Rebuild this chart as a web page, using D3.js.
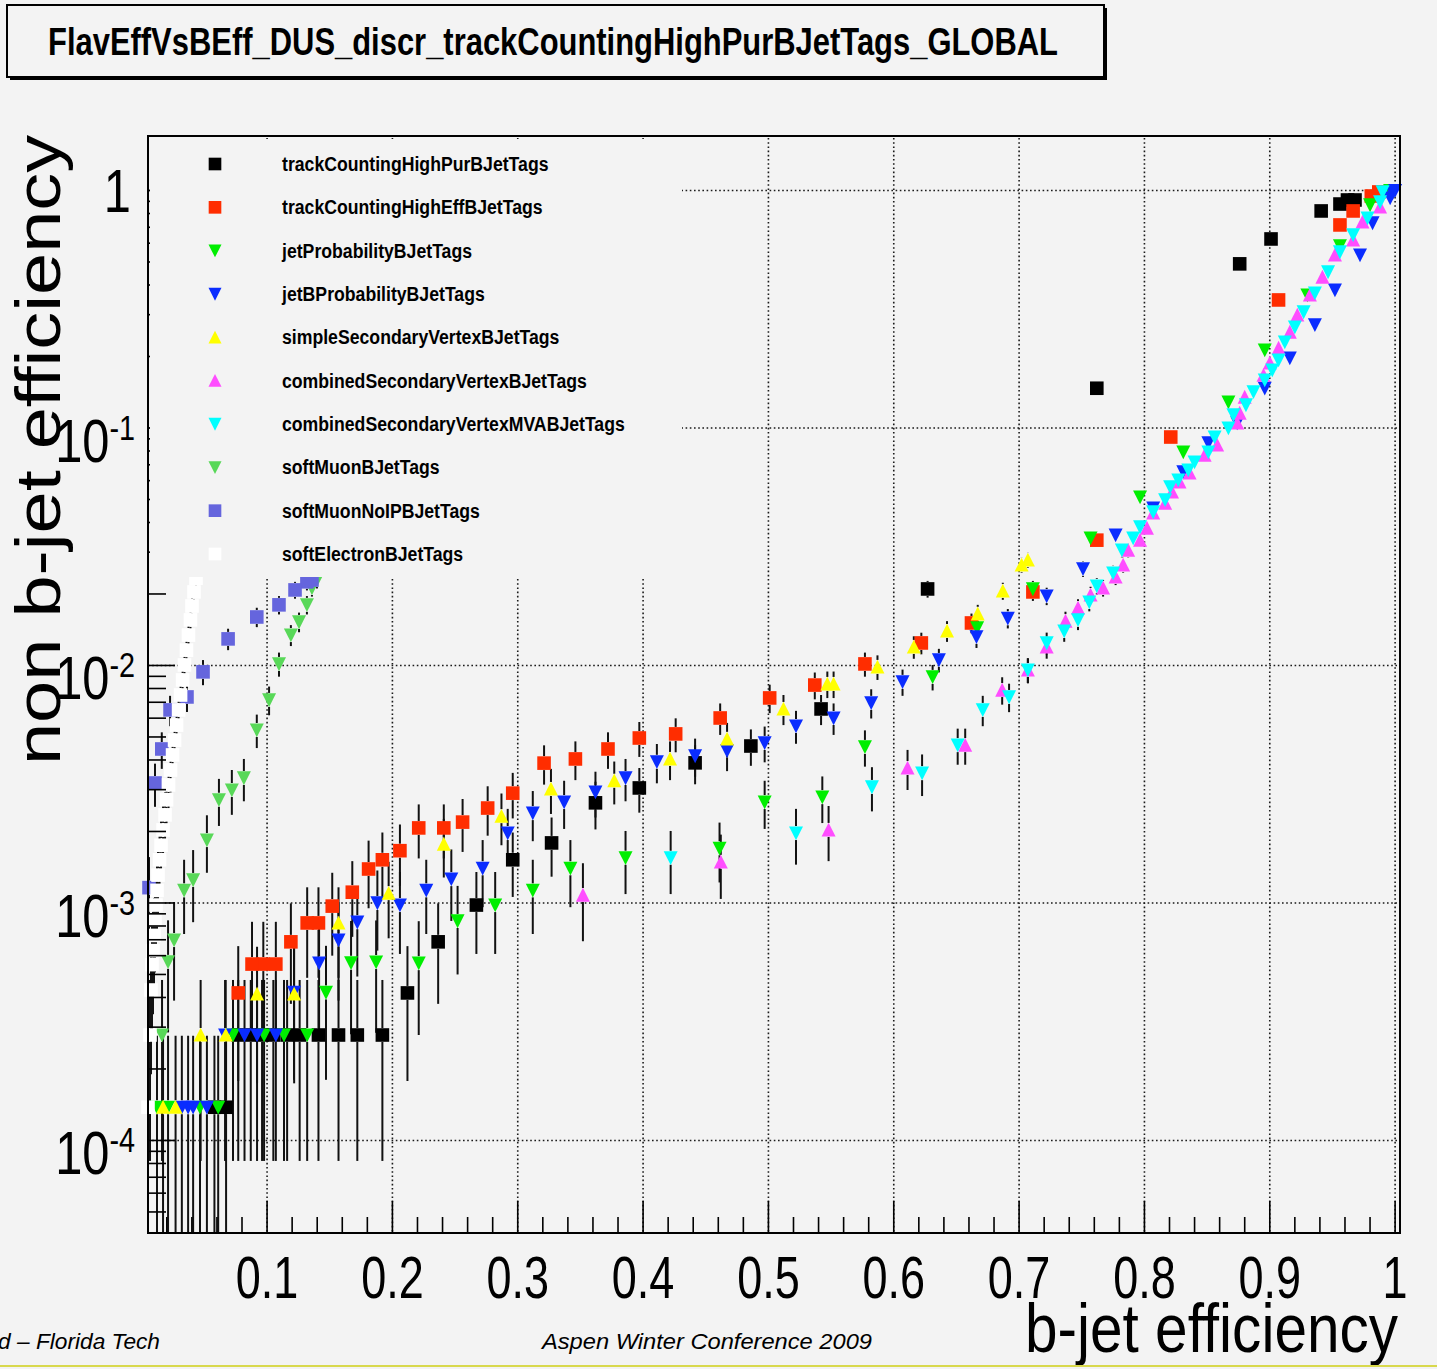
<!DOCTYPE html>
<meta charset="utf-8">
<style>
    body { margin: 0; background: #f3f3f3; }
    svg { display: block; }
    text { font-family: "Liberation Sans", Arial, Helvetica, sans-serif; fill: #000; }
    .grid line { stroke: #1a1a1a; stroke-width: 1.6; stroke-dasharray: 1.6, 2.6; }
    .err line { stroke: #111; stroke-width: 2; }
    .axis line { stroke: #000; stroke-width: 1.6; }
</style>
<svg width="1437" height="1369"></svg>
<script src="https://d3js.org/d3.v7.min.js"></script>
<script>
    // every point is [b-jet eff, non b-jet eff, error]
    var tcHighPur = [
        [0.968,0.912,0.011],[0.962,0.912,0.011],[0.956,0.877,0.011],[0.941,0.820,0.0106],
        [0.901,0.625,0.0093],[0.876,0.491,0.0082],[0.762,0.147,0.0045],[0.627,0.0210,0.0017],
        [0.542,6.56e-3,9.5e-4],[0.486,4.58e-3,8.0e-4],[0.4415,3.89e-3,7.3e-4],[0.397,3.05e-3,6.5e-4],
        [0.362,2.64e-3,6.0e-4],[0.327,1.79e-3,5.0e-4],[0.296,1.52e-3,4.6e-4],[0.267,9.8e-4,3.7e-4],
        [0.2365,6.86e-4,3.1e-4],[0.212,4.18e-4,2.4e-4],
        [0.192,2.78e-4,1.96e-4],[0.172,2.78e-4,1.96e-4],[0.157,2.78e-4,1.96e-4],[0.141,2.78e-4,1.96e-4],
        [0.126,2.78e-4,1.96e-4],[0.116,2.78e-4,1.96e-4],[0.105,2.78e-4,1.96e-4],[0.096,2.78e-4,1.96e-4],
        [0.087,2.78e-4,1.96e-4],[0.077,2.78e-4,1.96e-4],
        [0.0673,1.38e-4,1.38e-4],[0.058,1.38e-4,1.38e-4]
    ];
    var tcHighEff = [
        [0.987,0.986,0.0117],[0.981,0.948,0.0114],[0.9665,0.820,0.0106],[0.956,0.716,0.0099],
        [0.907,0.346,0.0069],[0.821,0.0916,0.0036],[0.762,0.0337,0.0022],[0.711,0.0204,0.0017],
        [0.662,0.0151,0.00144],[0.622,0.01244,0.0013],[0.577,0.01015,0.00118],[0.537,8.27e-3,1.07e-3],
        [0.501,7.30e-3,1.0e-3],[0.4615,6.01e-3,9.1e-4],[0.426,5.15e-3,8.4e-4],[0.397,4.95e-3,8.3e-4],
        [0.372,4.45e-3,7.8e-4],[0.346,4.04e-3,7.5e-4],[0.321,3.88e-3,7.3e-4],[0.296,2.90e-3,6.3e-4],
        [0.276,2.51e-3,5.9e-4],[0.256,2.19e-3,5.5e-4],[0.241,2.07e-3,5.3e-4],[0.221,2.07e-3,5.3e-4],
        [0.206,1.66e-3,4.8e-4],[0.192,1.52e-3,4.6e-4],[0.181,1.39e-3,4.4e-4],[0.168,1.11e-3,3.9e-4],
        [0.152,9.7e-4,3.7e-4],[0.141,8.24e-4,3.4e-4],[0.132,8.24e-4,3.4e-4],[0.119,6.86e-4,3.1e-4],
        [0.107,5.53e-4,2.8e-4],[0.097,5.53e-4,2.8e-4],[0.088,5.53e-4,2.8e-4],[0.077,4.18e-4,2.4e-4]
    ];
    var jetProb = [
        [0.996,1.0,0.0117],[0.980,0.869,0.011],[0.956,0.584,0.009],[0.930,0.363,0.0071],
        [0.896,0.213,0.0054],[0.867,0.1286,0.0042],[0.831,0.0792,0.0033],[0.7965,0.0512,0.0027],
        [0.757,0.0344,0.0022],[0.711,0.0210,0.0017],[0.6665,0.01439,0.0014],[0.631,8.95e-3,1.1e-3],
        [0.577,4.54e-3,7.9e-4],[0.543,2.79e-3,6.2e-4],[0.497,2.66e-3,6.1e-4],[0.461,1.70e-3,4.8e-4],
        [0.386,1.55e-3,4.6e-4],[0.342,1.40e-3,4.4e-4],[0.312,1.13e-3,3.9e-4],[0.282,9.8e-4,3.7e-4],
        [0.252,8.4e-4,3.4e-4],[0.221,5.58e-4,2.8e-4],[0.187,5.64e-4,2.8e-4],[0.167,5.6e-4,2.8e-4],
        [0.147,4.2e-4,2.4e-4],[0.132,2.78e-4,1.96e-4],[0.1135,2.78e-4,1.96e-4],[0.0976,2.78e-4,1.96e-4],
        [0.0728,2.78e-4,1.96e-4],[0.061,1.38e-4,1.38e-4],[0.0465,1.38e-4,1.38e-4],[0.021,1.38e-4,1.38e-4],
        [0.0122,1.38e-4,1.38e-4]
    ];
    var jetBProb = [
        [1.0,1.0,0.0117],[0.998,0.976,0.0116],[0.996,0.93,0.0113],[0.982,0.730,0.010],
        [0.972,0.535,0.0086],[0.952,0.381,0.0073],[0.936,0.272,0.0061],[0.916,0.197,0.0052],
        [0.896,0.147,0.0045],[0.874,0.105,0.0038],[0.851,0.0865,0.0035],[0.831,0.0653,0.003],
        [0.807,0.046,0.0025],[0.777,0.0354,0.0022],[0.751,0.0255,0.0019],[0.722,0.0196,0.00165],
        [0.691,0.0158,0.00148],[0.666,0.0132,0.00135],[0.636,0.01055,0.0012],[0.607,8.53e-3,1.08e-3],
        [0.582,6.96e-3,9.8e-4],[0.552,6.01e-3,9.1e-4],[0.522,5.56e-3,8.8e-4],[0.497,4.72e-3,8.1e-4],
        [0.467,4.37e-3,7.8e-4],[0.4415,4.16e-3,7.6e-4],[0.411,3.93e-3,7.4e-4],[0.386,3.36e-3,6.8e-4],
        [0.362,2.93e-3,6.4e-4],[0.337,2.66e-3,6.1e-4],[0.312,2.39e-3,5.7e-4],[0.292,1.97e-3,5.2e-4],
        [0.272,1.40e-3,4.4e-4],[0.247,1.26e-3,4.2e-4],[0.227,1.13e-3,3.9e-4],[0.206,9.8e-4,3.7e-4],
        [0.188,1.0e-3,3.7e-4],[0.172,8.3e-4,3.4e-4],[0.157,6.98e-4,3.1e-4],[0.1415,5.58e-4,2.8e-4],
        [0.1215,4.2e-4,2.4e-4],[0.107,2.78e-4,1.96e-4],[0.092,2.78e-4,1.96e-4],[0.082,2.78e-4,1.96e-4],
        [0.0665,2.78e-4,1.96e-4],[0.052,1.38e-4,1.38e-4],[0.041,1.38e-4,1.38e-4],[0.037,1.38e-4,1.38e-4],
        [0.032,1.38e-4,1.38e-4]
    ];
    var simpleSV = [
        [0.707,0.0278,0.002],[0.702,0.0265,0.0019],[0.687,0.0206,0.0017],[0.667,0.0165,0.0015],
        [0.6425,0.01397,0.0014],[0.616,0.01197,0.0013],[0.587,9.86e-3,1.17e-3],[0.552,8.36e-3,1.07e-3],
        [0.547,8.36e-3,1.07e-3],[0.512,6.56e-3,9.5e-4],[0.467,4.91e-3,8.2e-4],[0.4215,4.04e-3,7.5e-4],
        [0.377,3.27e-3,6.7e-4],[0.3265,3.02e-3,6.5e-4],[0.287,2.32e-3,5.7e-4],[0.241,1.77e-3,4.9e-4],
        [0.197,1.10e-3,3.9e-4],[0.157,8.24e-4,3.4e-4],[0.1216,4.14e-4,2.4e-4],[0.092,4.14e-4,2.4e-4],
        [0.067,2.78e-4,1.96e-4],[0.047,2.78e-4,1.96e-4],[0.027,1.38e-4,1.38e-4],[0.017,1.38e-4,1.38e-4]
    ];
    var combinedSV = [
        [0.988,0.852,0.0108],[0.974,0.737,0.0101],[0.9665,0.619,0.0092],[0.952,0.535,0.0086],
        [0.942,0.432,0.0077],[0.932,0.363,0.0071],[0.922,0.299,0.0064],[0.916,0.2535,0.0059],
        [0.907,0.217,0.0055],[0.900,0.188,0.0051],[0.895,0.167,0.0048],[0.880,0.135,0.0043],
        [0.876,0.1156,0.004],[0.874,0.105,0.0038],[0.858,0.0848,0.0034],[0.848,0.0769,0.0033],
        [0.836,0.0647,0.003],[0.828,0.0593,0.0029],[0.822,0.0538,0.0027],[0.8165,0.0483,0.0026],
        [0.807,0.0439,0.0025],[0.802,0.0379,0.0023],[0.7965,0.0337,0.0022],[0.787,0.0306,0.0021],
        [0.783,0.0265,0.0019],[0.777,0.0236,0.0018],[0.767,0.0212,0.0017],[0.757,0.0198,0.00165],
        [0.747,0.01746,0.00155],[0.737,0.01538,0.00146],[0.722,0.01197,0.00129],[0.707,9.57e-3,1.15e-3],
        [0.6865,7.88e-3,1.04e-3],[0.657,4.62e-3,8.0e-4],[0.611,3.70e-3,7.1e-4],[0.548,2.03e-3,5.3e-4],
        [0.462,1.49e-3,4.5e-4],[0.352,1.08e-3,3.9e-4]
    ];
    var combinedSVMVA = [
        [0.990,0.986,0.0117],[0.988,0.895,0.0111],[0.978,0.766,0.0103],[0.9665,0.650,0.0095],
        [0.956,0.551,0.0087],[0.9465,0.454,0.0079],[0.936,0.37,0.0071],[0.927,0.308,0.0065],
        [0.920,0.266,0.0061],[0.912,0.230,0.0056],[0.907,0.193,0.0052],[0.902,0.1754,0.0049],
        [0.896,0.159,0.0047],[0.887,0.1419,0.0044],[0.881,0.125,0.0042],[0.871,0.1135,0.004],
        [0.867,0.100,0.0037],[0.856,0.0916,0.0036],[0.851,0.0792,0.0033],[0.840,0.0719,0.0032],
        [0.835,0.0665,0.003],[0.827,0.0604,0.0029],[0.8205,0.0565,0.0028],[0.8165,0.0498,0.0026],
        [0.807,0.0443,0.0025],[0.7965,0.0383,0.0023],[0.791,0.0344,0.0022],[0.782,0.0306,0.0021],
        [0.775,0.0245,0.0018],[0.762,0.0216,0.0017],[0.756,0.0185,0.0016],[0.747,0.01556,0.00147],
        [0.736,0.01397,0.00139],[0.722,0.01244,0.00131],[0.707,9.57e-3,1.15e-3],[0.692,7.37e-3,1.01e-3],
        [0.671,6.50e-3,9.5e-4],[0.651,4.62e-3,8.0e-4],[0.6226,3.52e-3,7.0e-4],[0.5826,3.08e-3,6.5e-4],
        [0.522,1.97e-3,5.2e-4],[0.422,1.55e-3,4.6e-4]
    ];
    var softMuon = [
        [0.1398,0.0229,0.0018],[0.1358,0.0212,0.0017],[0.1318,0.0180,0.0016],[0.1255,0.01525,0.00145],
        [0.119,0.01343,0.00136],[0.1095,0.01015,1.18e-3],[0.1016,7.16e-3,9.9e-4],[0.0918,5.35e-3,8.6e-4],
        [0.0815,3.36e-3,6.8e-4],[0.0719,2.99e-3,6.4e-4],[0.0616,2.72e-3,6.1e-4],[0.052,1.84e-3,5.0e-4],
        [0.041,1.25e-3,4.2e-4],[0.0338,1.13e-3,3.9e-4],[0.0258,6.98e-4,3.1e-4],[0.021,5.65e-4,2.8e-4],
        [0.0162,2.78e-4,1.96e-4]
    ];
    var softMuonNoIP = [
        [0.1358,0.0229,0.0018],[0.1318,0.0225,0.0018],[0.1223,0.0208,0.0017],[0.1095,0.0180,0.0016],
        [0.0918,0.0160,0.0015],[0.0689,0.01294,0.00134],[0.0489,9.4e-3,1.14e-3],[0.0361,7.37e-3,1.0e-3],
        [0.0226,6.5e-3,9.5e-4],[0.016,4.45e-3,7.8e-4],[0.0106,3.2e-3,6.6e-4],[0.0058,1.16e-3,4.0e-4]
    ];
    var softElectron = [
        [0.0433,0.0233,0.0018],[0.0417,0.0204,0.00168],[0.0401,0.0178,0.00157],[0.0389,0.01556,0.00147],
        [0.0373,0.01343,0.00136],[0.0357,0.0116,0.00127],[0.0341,0.01005,0.00118],[0.0326,8.69e-3,1.1e-3],
        [0.031,7.51e-3,1.02e-3],[0.0294,6.5e-3,9.5e-4],[0.0278,5.61e-3,8.8e-4],[0.0262,4.85e-3,8.2e-4],
        [0.0246,4.2e-3,7.6e-4],[0.023,3.63e-3,7.1e-4],[0.0214,3.14e-3,6.6e-4],[0.0198,2.72e-3,6.1e-4],
        [0.0186,2.35e-3,5.7e-4],[0.017,2.03e-3,5.3e-4],[0.0154,1.75e-3,4.9e-4],[0.0142,1.52e-3,4.6e-4],
        [0.013,1.31e-3,4.3e-4],[0.0122,1.13e-3,3.9e-4],[0.0114,9.8e-4,3.7e-4],[0.0106,8.5e-4,3.4e-4],
        [0.0098,7.3e-4,3.2e-4],[0.009,6.3e-4,2.9e-4],[0.0082,5.5e-4,2.8e-4],[0.0074,4.3e-4,2.4e-4],
        [0.0066,2.78e-4,1.96e-4],[0.005,1.38e-4,1.38e-4]
    ];

    var seriesNames = ["trackCountingHighPurBJetTags", "trackCountingHighEffBJetTags", "jetProbabilityBJetTags",
        "jetBProbabilityBJetTags", "simpleSecondaryVertexBJetTags", "combinedSecondaryVertexBJetTags",
        "combinedSecondaryVertexMVABJetTags", "softMuonBJetTags", "softMuonNoIPBJetTags", "softElectronBJetTags"];
    var seriesData = [tcHighPur, tcHighEff, jetProb, jetBProb, simpleSV, combinedSV, combinedSVMVA,
        softMuon, softMuonNoIP, softElectron];
    var seriesColors = ["#000000", "#ff2d00", "#00ee00", "#0a2cff", "#ffff00", "#ff4dff", "#00ffff",
        "#58d858", "#6565dd", "#ffffff"];
    var seriesShapes = ["square", "square", "down", "down", "up", "up", "down", "down", "square", "square"];

    var xTickValues = [0.1, 0.2, 0.3, 0.4, 0.5, 0.6, 0.7, 0.8, 0.9, 1.0];
    var xTickLabels = ["0.1", "0.2", "0.3", "0.4", "0.5", "0.6", "0.7", "0.8", "0.9", "1"];
    var yTickValues = [1, 0.1, 0.01, 0.001, 0.0001];
    var yTickExponents = [null, "-1", "-2", "-3", "-4"];

    var svg = d3.select("svg"),
        width = +svg.attr("width"),
        height = +svg.attr("height");

    var frame = {left: 148, right: 1400, top: 136, bottom: 1233};

    var x = d3.scaleLinear().domain([0.005, 1.0035]).range([frame.left, 1399.5]);
    var y = d3.scaleLog().domain([1.696, 4.077e-5]).range([frame.top, frame.bottom]);

    var shapes = {
        square: "M-6.8,-6.8h13.6v13.6h-13.6z",
        up: "M0,-7.2L7,6.6L-7,6.6Z",
        down: "M0,7.2L7,-6.6L-7,-6.6Z"
    };

    svg.append("rect").attr("width", width).attr("height", height).attr("fill", "#f3f3f3");

    // grid
    var grid = svg.append("g").attr("class", "grid");
    grid.selectAll("line.gx").data(xTickValues).enter().append("line")
        .attr("x1", function(d) { return x(d); }).attr("x2", function(d) { return x(d); })
        .attr("y1", frame.top + 2).attr("y2", frame.bottom);
    grid.selectAll("line.gy").data(yTickValues).enter().append("line")
        .attr("x1", frame.left).attr("x2", frame.right)
        .attr("y1", function(d) { return y(d); }).attr("y2", function(d) { return y(d); });

    // error bars first (ROOT leaves a gap where the marker sits), markers on top
    var gap = 7;
    var errG = svg.append("g").attr("class", "err");
    seriesData.forEach(function(pts) {
        pts.forEach(function(p) {
            var cx = x(p[0]), cy = y(p[1]);
            var top = y(p[1] + p[2]);
            var lo = p[1] - p[2];
            var bot = lo > y.domain()[1] ? y(lo) : frame.bottom;
            if (cy - top > gap) errG.append("line").attr("x1", cx).attr("x2", cx).attr("y1", top).attr("y2", cy - gap);
            if (bot - cy > gap) errG.append("line").attr("x1", cx).attr("x2", cx).attr("y1", cy + gap).attr("y2", bot);
        });
    });
    seriesData.forEach(function(pts, i) {
        svg.append("g").selectAll("path").data(pts).enter().append("path")
            .attr("d", shapes[seriesShapes[i]])
            .attr("fill", seriesColors[i])
            .attr("transform", function(d) { return "translate(" + x(d[0]) + "," + y(d[1]) + ")"; });
    });

    // frame and ticks
    var axis = svg.append("g").attr("class", "axis");
    var xMinor = d3.range(0.02, 1.001, 0.02);
    axis.selectAll("line.xm").data(xMinor).enter().append("line")
        .attr("x1", function(d) { return x(d); }).attr("x2", function(d) { return x(d); })
        .attr("y1", frame.bottom).attr("y2", function(d) {
            return Math.abs(d * 10 - Math.round(d * 10)) < 1e-6 ? frame.bottom - 32 : frame.bottom - 16;
        });
    var yMinor = [];
    for (var k = -5; k <= 0; k++) {
        for (var m = 1; m <= 9; m++) {
            var v = m * Math.pow(10, k);
            if (v >= y.domain()[1] && v <= y.domain()[0]) yMinor.push({v: v, major: m === 1});
        }
    }
    axis.selectAll("line.ym").data(yMinor).enter().append("line")
        .attr("x1", frame.left).attr("x2", function(d) { return frame.left + (d.major ? 27 : 18); })
        .attr("y1", function(d) { return y(d.v); }).attr("y2", function(d) { return y(d.v); });
    svg.append("rect")
        .attr("x", frame.left).attr("y", frame.top)
        .attr("width", frame.right - frame.left).attr("height", frame.bottom - frame.top)
        .attr("fill", "none").attr("stroke", "#000").attr("stroke-width", 2);

    // legend (drawn over everything in the corner, like ROOT)
    var legend = svg.append("g");
    legend.append("rect").attr("x", 150).attr("y", 139).attr("width", 532).attr("height", 438).attr("fill", "#f3f3f3");
    var rowY = d3.scaleLinear().domain([0, 9]).range([164, 554]);
    var rows = legend.selectAll("g.row").data(seriesNames).enter().append("g")
        .attr("transform", function(d, i) { return "translate(0," + rowY(i) + ")"; });
    rows.append("path")
        .attr("d", function(d, i) { return shapes[seriesShapes[i]]; })
        .attr("fill", function(d, i) { return seriesColors[i]; })
        .attr("transform", "translate(215,0) scale(0.93)");
    var legTexts = rows.append("text")
        .attr("font-size", 20).attr("font-weight", "bold")
        .attr("y", 7)
        .text(function(d) { return d; });
    var longest = 0;
    legTexts.each(function() { longest = Math.max(longest, this.getComputedTextLength()); });
    var legScale = 343 / longest;
    legTexts.attr("transform", "translate(282,0) scale(" + legScale + ",1)");

    // x tick labels
    svg.append("g").selectAll("text").data(xTickValues).enter().append("text")
        .attr("text-anchor", "middle").attr("font-size", 60)
        .attr("transform", function(d) { return "translate(" + x(d) + ",1298) scale(0.75,1)"; })
        .text(function(d, i) { return xTickLabels[i]; });

    // y tick labels
    yTickValues.forEach(function(v, i) {
        var ty = y(v);
        if (yTickExponents[i] === null) {
            svg.append("text").attr("text-anchor", "end").attr("font-size", 61)
                .attr("transform", "translate(131," + (ty + 22) + ") scale(0.8,1)").text("1");
        } else {
            var ex = svg.append("text").attr("text-anchor", "end").attr("font-size", 36)
                .attr("transform", "translate(135," + (ty + 12) + ") scale(0.8,1)").text(yTickExponents[i]);
            var ew = ex.node().getComputedTextLength() * 0.8;
            svg.append("text").attr("text-anchor", "end").attr("font-size", 61)
                .attr("transform", "translate(" + (135 - ew) + "," + (ty + 34) + ") scale(0.8,1)").text("10");
        }
    });

    // axis titles
    svg.append("text").attr("font-size", 75)
        .attr("transform", "translate(60,765) rotate(-90) scale(1,0.85)")
        .attr("textLength", 630).attr("lengthAdjust", "spacingAndGlyphs")
        .text("non b-jet efficiency");
    svg.append("text").attr("font-size", 68).attr("text-anchor", "end")
        .attr("x", 1398).attr("y", 1352)
        .attr("textLength", 373).attr("lengthAdjust", "spacingAndGlyphs")
        .text("b-jet efficiency");

    // title box
    svg.append("rect").attr("x", 10).attr("y", 8).attr("width", 1097).attr("height", 72).attr("fill", "#000");
    svg.append("rect").attr("x", 7).attr("y", 5).attr("width", 1097).attr("height", 72)
        .attr("fill", "#f3f3f3").attr("stroke", "#000").attr("stroke-width", 2);
    svg.append("text").attr("x", 48).attr("y", 55).attr("font-size", 39).attr("font-weight", "bold")
        .attr("textLength", 1010).attr("lengthAdjust", "spacingAndGlyphs")
        .text("FlavEffVsBEff_DUS_discr_trackCountingHighPurBJetTags_GLOBAL");

    // slide footer
    svg.append("text").attr("x", -2).attr("y", 1349).attr("font-size", 22).attr("font-style", "italic")
        .attr("textLength", 162).attr("lengthAdjust", "spacingAndGlyphs").text("d \u2013 Florida Tech");
    svg.append("text").attr("x", 542).attr("y", 1349).attr("font-size", 22).attr("font-style", "italic")
        .attr("textLength", 330).attr("lengthAdjust", "spacingAndGlyphs").text("Aspen Winter Conference 2009");
    svg.append("line").attr("x1", 0).attr("x2", width).attr("y1", 1366).attr("y2", 1366)
        .attr("stroke", "#d8d84c").attr("stroke-width", 2);
</script>
